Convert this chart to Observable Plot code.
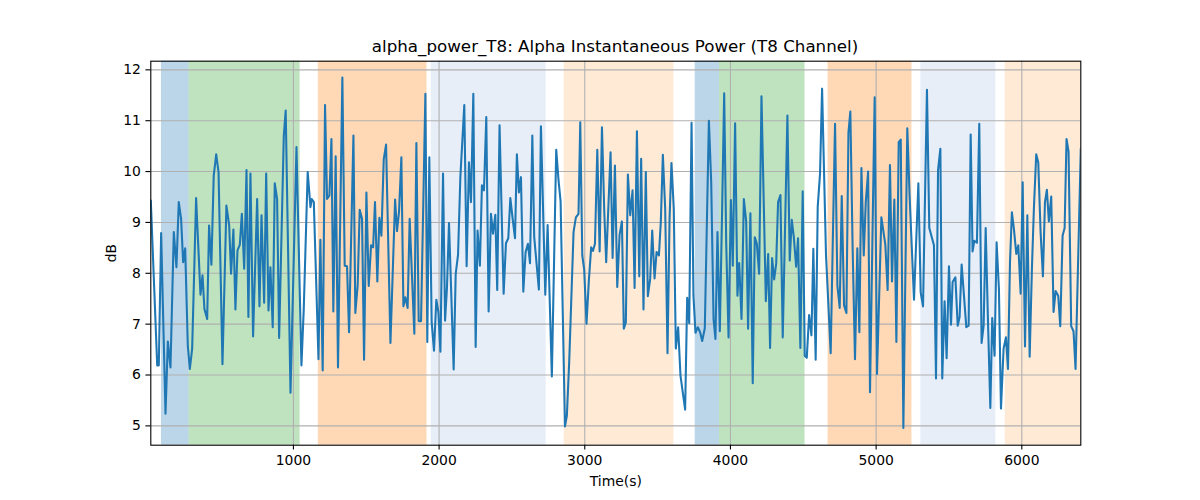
<!DOCTYPE html>
<html><head><meta charset="utf-8">
<script src="https://cdn.jsdelivr.net/npm/d3@7"></script>
<script src="https://cdn.jsdelivr.net/npm/@observablehq/plot@0.6"></script>
<style>
body{margin:0;background:#fff;font-family:"DejaVu Sans",sans-serif;}
#title{position:relative;width:1200px;height:58px;}
#title span{position:absolute;left:615px;top:38px;transform:translateX(-50%);font-size:16.7px;line-height:16.7px;white-space:nowrap;color:#000;}
</style></head>
<body>
<div id="title"><span>alpha_power_T8: Alpha Instantaneous Power (T8 Channel)</span></div>
<div id="chart"></div>
<script>
const times = [21,65,76,92,122,138,156,179,197,213,229,243,257,275,289,305,332,362,376,389,408,421,437,453,470,486,513,540,559,572,588,602,616,632,646,662,678,691,705,723,751,767,781,799,813,829,842,858,872,888,902,934,947,980,1021,1055,1071,1098,1117,
1126,1140,1172,1185,1201,1217,1231,1247,1261,1274,1290,1306,1336,1352,1368,1382,1412,1425,1441,1455,1471,1485,1501,1517,1533,1547,1560,1576,1590,1604,1620,1636,1666,1698,1711,1725,1741,1755,1768,1784,1798,1830,1844,1860,1876,1906,1919,1933,1949,1965,1981,1995,2009,2027,2041,2054,2068,2100,2114,2130,2146,2173,2189,2205,
2219,2235,2251,2264,2280,2294,2308,2324,2340,2356,2370,2386,2399,2415,2443,2459,2475,2489,2505,2521,2534,2548,2562,2578,2594,2610,2624,2640,2653,2685,2699,2729,2745,2774,2804,2820,2834,2864,2877,2893,2923,2939,2957,2969,2983,2996,3012,3028,3044,3056,3070,3086,3102,3118,3134,3147,3177,3191,3207,3223,3239,3255,3268,3282,3296,3312,
3328,3342,3358,3374,3387,3403,3419,3433,3449,3463,3479,3493,3509,3522,3536,3552,3568,3582,3595,3611,3625,3641,3657,3689,3703,3717,3733,3746,3760,3776,3792,3806,3824,3852,3868,3884,3897,3911,3927,3943,3957,3971,3987,4003,4016,4032,4048,4060,4076,4092,4108,4121,4137,4153,4167,4181,4197,4213,4243,4259,4272,4286,4300,4314,4327,4343,4359,4391,4407,
4421,4435,4451,4464,4480,4496,4510,4524,4540,4556,4569,4585,4599,4615,4629,4656,4688,4718,4734,4750,4764,4780,4796,4810,4823,4839,4855,4871,4885,4899,4915,4929,4945,4958,4990,5006,5036,5063,5079,5095,5109,5125,5139,5155,5169,5187,5214,5230,5260,5290,5306,5322,5349,5365,5397,5411,5425,5441,5454,5470,5484,5500,
5514,5525,5544,5560,5573,5587,5603,5619,5635,5649,5662,5674,5692,5708,5724,5738,5752,5768,5784,5797,5813,5827,5843,5857,5875,5891,5905,5919,5932,5946,5962,5976,5992,6006,6022,6038,6054,6070,6083,6099,6113,6129,6145,6159,6172,6186,6202,6218,6232,6250,6264,6280,6294,6307,6321,6339,6355,6369,6405];

const power = [9.43,6.19,6.19,8.79,5.24,6.66,6.15,8.81,8.12,9.40,9.07,8.22,8.49,6.58,6.12,6.52,9.48,7.58,7.96,7.30,7.10,8.94,8.17,9.92,10.34,9.99,6.21,9.33,8.94,7.99,8.86,7.29,8.45,8.56,9.17,8.09,10.03,7.14,9.96,6.76,9.46,7.35,9.14,7.42,9.96,7.27,8.12,6.94,9.77,9.46,6.73,10.71,11.20,5.65,10.48,6.19,7.30,9.99,9.30,
9.46,9.40,6.31,8.66,6.09,11.31,9.46,9.53,10.64,7.25,10.30,6.15,11.85,8.15,8.14,6.84,10.71,7.22,7.76,9.25,9.07,6.30,9.59,7.75,8.55,8.51,9.40,7.84,9.09,8.74,10.24,10.53,6.63,9.45,8.83,9.21,10.28,7.35,7.53,7.32,9.07,6.81,10.56,7.06,7.06,11.53,6.65,10.28,7.04,6.48,7.48,7.24,6.46,9.96,7.07,7.71,8.99,6.11,7.99,8.36,9.89,11.31,8.14,10.18,
9.40,11.53,6.55,8.84,8.15,9.73,9.63,11.07,7.25,9.17,8.78,9.15,7.67,10.91,7.60,8.59,8.69,9.48,9.07,8.69,10.34,9.59,9.89,7.64,8.42,8.58,8.20,10.71,8.71,7.68,10.89,7.58,8.95,5.97,10.43,9.82,9.42,4.99,5.20,6.25,8.81,9.10,9.17,10.97,8.35,8.07,7.01,7.86,8.51,8.44,8.58,10.43,8.43,10.87,9.20,8.22,10.38,8.30,10.12,7.73,8.76,9.02,6.91,7.04,9.94,9.14,
9.63,7.71,10.79,7.94,10.25,7.29,9.99,7.55,7.89,8.84,7.90,8.42,8.35,9.01,10.33,9.27,6.43,9.07,10.17,9.27,6.52,6.94,5.99,5.32,7.52,7.02,10.96,7.56,6.83,6.94,6.84,6.67,6.92,11.00,9.78,7.10,6.71,8.81,6.86,9.27,11.54,8.58,6.74,9.44,8.15,10.95,7.56,8.20,7.10,9.46,9.02,6.91,9.18,5.84,8.71,8.58,7.99,11.48,7.45,8.38,6.53,8.30,7.88,8.19,9.40,9.54,6.74,11.10,8.25,
9.05,8.71,8.13,8.69,6.53,9.61,6.38,6.34,7.18,6.78,8.48,6.30,9.30,9.96,11.63,8.36,6.43,10.94,7.76,7.32,9.52,7.37,7.22,10.76,11.18,8.46,6.31,8.49,6.84,10.07,8.35,9.40,10.00,5.66,11.46,6.02,9.10,8.57,7.67,10.13,7.84,9.45,6.65,10.58,10.63,4.96,10.85,9.51,7.48,9.77,7.62,7.35,11.61,8.89,8.55,5.93,10.03,10.45,5.93,7.45,6.33,8.14,
6.99,7.83,7.92,6.97,7.14,8.17,7.56,6.94,6.97,10.73,8.43,8.64,8.60,10.94,6.63,6.97,8.89,7.04,5.35,7.12,6.38,8.61,7.69,5.34,6.52,6.74,6.12,8.22,9.20,8.87,8.38,8.55,7.60,9.79,6.56,9.14,6.36,8.15,9.27,10.34,10.18,8.81,7.94,9.40,9.64,9.02,9.51,7.24,7.65,7.56,6.96,8.74,8.89,10.64,10.39,6.96,6.86,6.12,10.46];

const spanStart = [94, 284, 1171, 1946, 2859, 3758, 3925, 4670, 5307, 5886];
const spanEnd   = [284, 1046, 1917, 2735, 3612, 3925, 4512, 5246, 5822, 6405];
const spanColor = ["#1f77b4","#2ca02c","#ff7f0e","#aec7e8","#ffbb78","#1f77b4","#2ca02c","#ff7f0e","#aec7e8","#ffbb78"];

const xTicks = [1000, 2000, 3000, 4000, 5000, 6000];
const yTicks = [5, 6, 7, 8, 9, 10, 11, 12];
const xDomain = [21, 6405];
const yDomain = [4.62, 12.17];

const series = times.map((t, i) => ({t, v: power[i]}));
const spans = spanStart.map((s, i) => ({s, e: spanEnd[i], c: spanColor[i]}));

const chart = Plot.plot({
  width: 1200,
  height: 442,
  marginLeft: 150.3,
  marginRight: 119.7,
  marginTop: 2.7,
  marginBottom: 55.3,
  style: {fontFamily: "DejaVu Sans", fontSize: "13.9px", color: "#000", background: "#fff"},
  x: {domain: xDomain},
  y: {domain: yDomain},
  color: {type: "identity"},
  marks: [
    Plot.rect(spans, {x1: "s", x2: "e", fill: "c", fillOpacity: 0.3}),
    Plot.gridX(xTicks, {stroke: "#b0b0b0", strokeOpacity: 1, strokeWidth: 1.1}),
    Plot.gridY(yTicks, {stroke: "#b0b0b0", strokeOpacity: 1, strokeWidth: 1.1}),
    Plot.line(series, {x: "t", y: "v", stroke: "#1f77b4", strokeWidth: 2.08, clip: true}),
    Plot.frame({stroke: "#000", strokeWidth: 1.1}),
    Plot.axisX(xTicks, {tickSize: 4.9, tickPadding: 4.9, tickFormat: d3.format("d"), label: null, fontSize: 13.9, strokeWidth: 1.1}),
    Plot.axisY(yTicks, {tickSize: 4.9, tickPadding: 5, tickFormat: d3.format("d"), label: null, fontSize: 13.9, strokeWidth: 1.1}),
    Plot.text(["Time(s)"], {frameAnchor: "bottom", dy: 36.3, lineAnchor: "middle", fontSize: 13.9, fill: "#000"}),
    Plot.text(["dB"], {frameAnchor: "left", dx: -39.6, rotate: -90, lineAnchor: "middle", textAnchor: "middle", fontSize: 13.9, fill: "#000"})
  ]
});
document.getElementById("chart").appendChild(chart);
</script>
</body></html>
